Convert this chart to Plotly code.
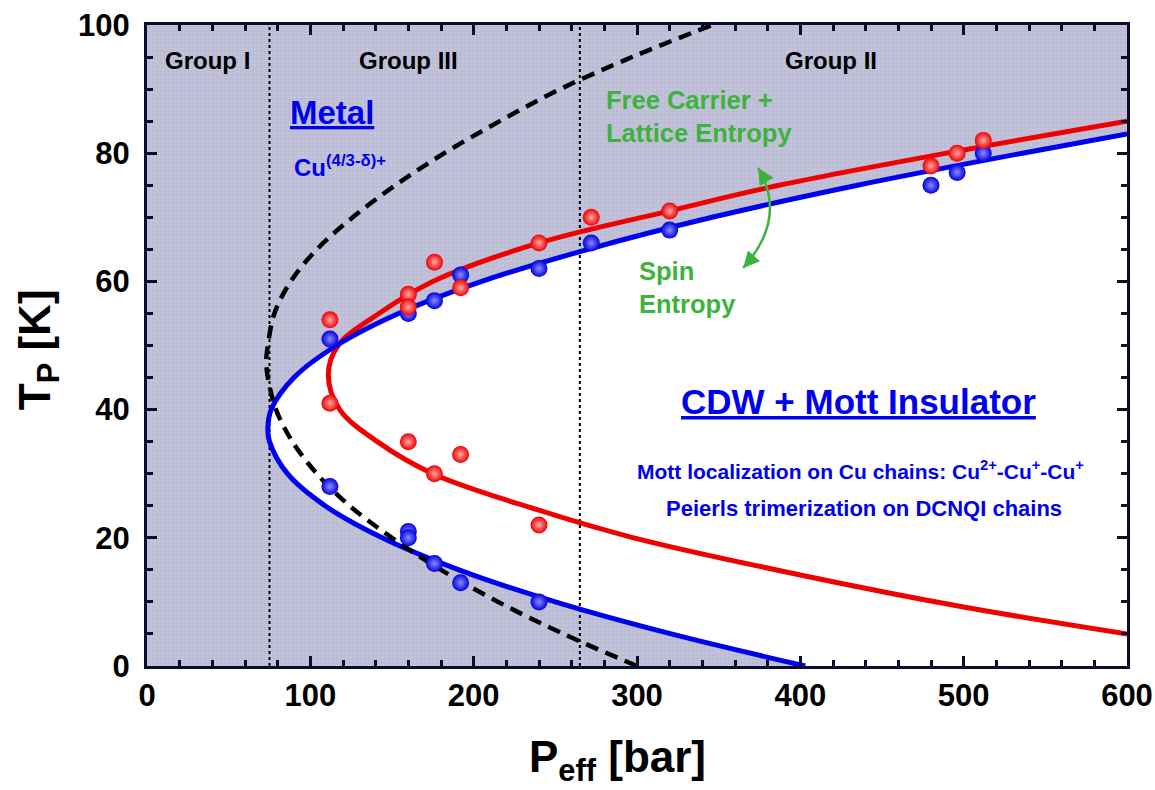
import plotly.graph_objects as go

# ---- axis ranges ----
P_RANGE = [0, 600]
T_RANGE = [0, 100]

# ---- measured transition temperatures (P_eff in bar, T in K) ----
red_P = [112, 112, 160, 160, 160, 176, 176, 192, 192, 240, 240, 272, 320, 480, 496, 512]
red_T = [54, 41, 58, 56, 35, 63, 30, 59, 33, 66, 22, 70, 71, 78, 80, 82]

blue_P = [112, 112, 160, 160, 160, 176, 176, 192, 192, 240, 240, 272, 320, 480, 496, 512]
blue_T = [51, 28, 21, 20, 55, 57, 16, 61, 13, 62, 10, 66, 68, 75, 77, 80]

# ---- phase boundaries (T in K -> P in bar) ----
blue_curve_T = [0, 5, 10, 15, 20, 25, 30, 35, 37, 40, 45, 50, 55, 60, 65, 70, 75, 80, 83]
blue_curve_P = [403, 321, 250, 191, 144, 109, 86, 75, 74, 76, 90, 116, 154, 205, 270, 346, 435, 536, 600]

red_curve_T = [5, 9.2, 14.2, 20, 24.3, 30, 35, 40, 45.4, 50, 55, 60, 66, 71, 75, 80.5, 85]
red_curve_P = [600, 500, 400, 298, 240, 175, 141, 118, 111, 117, 142, 175, 240, 320, 387, 500, 600]

dash_curve_T = [0, 5, 10, 15, 20, 25, 30, 35, 40, 45, 47.7, 50, 55, 60, 65, 70, 75, 80, 85, 90, 95, 100]
dash_curve_P = [300, 255, 215, 180, 150, 124, 104, 89, 79, 74, 73, 74, 78, 88, 104, 126, 152, 182, 216, 253, 297, 346]

# group boundaries
group_bounds_P = [75, 265]

SHADE_BG = "#c3c3da"
SHADE_FG = "#a9a9c8"
AXIS_COL = "#0c0c30"
RED = "#f00000"
BLUE = "#0000f0"
GREEN = "#3cb43c"
FONT = "Liberation Sans"

fig = go.Figure()

# shaded (metallic) background with fine texture
fig.add_trace(go.Scatter(
    x=[P_RANGE[0], P_RANGE[1], P_RANGE[1], P_RANGE[0]],
    y=[T_RANGE[0], T_RANGE[0], T_RANGE[1], T_RANGE[1]],
    mode="none", fill="toself", fillcolor=SHADE_BG,
    fillpattern=dict(shape="+", fgcolor=SHADE_FG, bgcolor=SHADE_BG, size=4, solidity=0.35),
    hoverinfo="skip", showlegend=False))

# insulating region inside the blue boundary
fig.add_trace(go.Scatter(
    x=blue_curve_P + [P_RANGE[1]],
    y=blue_curve_T + [T_RANGE[0]],
    mode="none", fill="toself", fillcolor="white",
    hoverinfo="skip", showlegend=False))

# dotted group boundaries
for pb in group_bounds_P:
    fig.add_trace(go.Scatter(
        x=[pb, pb], y=T_RANGE, mode="lines",
        line=dict(color="black", width=2, dash="dot"),
        hoverinfo="skip", showlegend=False))

# phase boundary curves
fig.add_trace(go.Scatter(x=red_curve_P, y=red_curve_T, mode="lines",
                         line=dict(color=RED, width=5, shape="spline"), showlegend=False))
fig.add_trace(go.Scatter(x=blue_curve_P, y=blue_curve_T, mode="lines",
                         line=dict(color=BLUE, width=5, shape="spline"), showlegend=False))
fig.add_trace(go.Scatter(x=dash_curve_P, y=dash_curve_T, mode="lines",
                         line=dict(color="black", width=4.5, shape="spline", dash="13px,8px"),
                         showlegend=False))

# data points (shaded spheres: light core, saturated rim)
fig.add_trace(go.Scatter(x=blue_P, y=blue_T, mode="markers",
                         marker=dict(size=17, color="#0000e0",
                                     gradient=dict(type="radial", color="#8c8cff"),
                                     line=dict(width=0)),
                         showlegend=False))
fig.add_trace(go.Scatter(x=red_P, y=red_T, mode="markers",
                         marker=dict(size=17, color="#f00000",
                                     gradient=dict(type="radial", color="#ffa8a8"),
                                     line=dict(width=0)),
                         showlegend=False))

# curved double-headed arrow between the entropy labels
fig.add_shape(type="path", xref="x", yref="y",
              path="M 374.2,77.7 Q 392.3,69.9 365.0,62.1",
              line=dict(color=GREEN, width=2.5))

ann = []
for (x, y, ax, ay) in [(374.2, 77.7, 6, 10), (365.0, 62.1, 9, -10)]:
    ann.append(dict(x=x, y=y, xref="x", yref="y", ax=ax, ay=ay, text="",
                    showarrow=True, arrowhead=2, arrowsize=1.3, arrowwidth=2.5,
                    arrowcolor=GREEN, standoff=0))


def label(x, y, text, size, color, xanchor="center", align="center"):
    ann.append(dict(x=x, y=y, xref="x", yref="y", text=text, showarrow=False,
                    xanchor=xanchor, yanchor="middle", align=align,
                    font=dict(family=FONT, size=size, color=color, weight="bold")))


label(36.8, 94.5, "Group I", 24, "black")
label(160, 94.5, "Group III", 24, "black")
label(419, 94.5, "Group II", 24, "black")
label(113, 86.4, "<u>Metal</u>", 33, BLUE)
label(89, 78.0, "Cu<sup>(4/3-δ)+</sup>", 24, BLUE, xanchor="left")
label(280, 85.7, "Free Carrier +<br>Lattice Entropy", 25.5, GREEN, xanchor="left", align="left")
label(300, 59.0, "Spin<br>Entropy", 25.5, GREEN, xanchor="left", align="left")
label(435.6, 41.2, "<u>CDW + Mott Insulator</u>", 35, BLUE)
label(437, 30.6, "Mott localization on Cu chains: Cu<sup>2+</sup>-Cu<sup>+</sup>-Cu<sup>+</sup>", 21, BLUE)
label(439, 24.6, "Peierls trimerization on DCNQI chains", 22, BLUE)

# axis titles
ann.append(dict(x=0.48, y=-0.146, xref="paper", yref="paper", text="P<sub>eff</sub> [bar]",
                showarrow=False, xanchor="center", yanchor="middle",
                font=dict(family=FONT, size=44, color="black", weight="bold")))
ann.append(dict(x=-0.111, y=0.493, xref="paper", yref="paper", text="T<sub>P</sub> [K]",
                showarrow=False, xanchor="center", yanchor="middle", textangle=-90,
                font=dict(family=FONT, size=44, color="black", weight="bold")))

axis_common = dict(
    showline=True, linewidth=3, linecolor=AXIS_COL, mirror="ticks",
    ticks="inside", ticklen=10, tickwidth=3, tickcolor=AXIS_COL,
    showgrid=False, zeroline=False, automargin=False,
    tickfont=dict(family=FONT, size=31, color="black", weight="bold"),
)

fig.update_xaxes(range=P_RANGE, dtick=100, ticklabelstandoff=0,
                 minor=dict(dtick=20, ticks="inside", ticklen=6, tickwidth=3, tickcolor=AXIS_COL, showgrid=False),
                 **axis_common)
fig.update_yaxes(range=T_RANGE, dtick=20, ticklabelstandoff=8,
                 minor=dict(dtick=5, ticks="inside", ticklen=6, tickwidth=3, tickcolor=AXIS_COL, showgrid=False),
                 **axis_common)

fig.update_layout(
    width=1155, height=790,
    margin=dict(l=147, r=28, t=25, b=124),
    plot_bgcolor=SHADE_BG, paper_bgcolor="white",
    annotations=ann, showlegend=False,
)

fig.write_html("out.html")
